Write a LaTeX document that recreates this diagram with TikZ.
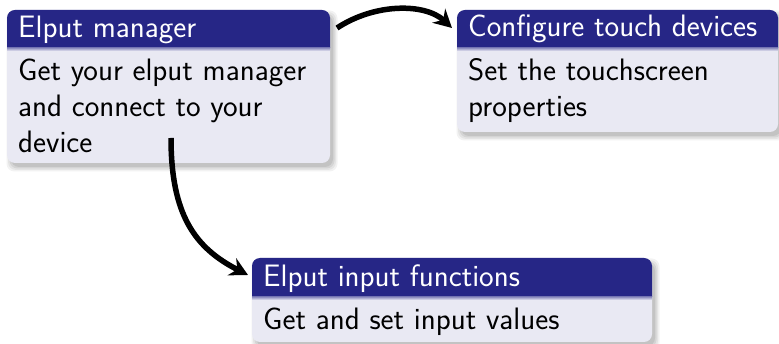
\documentclass[tikz,border=0pt]{standalone}
\usetikzlibrary{arrows.meta}
\definecolor{titlebg}{RGB}{38,38,134}
\definecolor{bodybg}{RGB}{233,233,243}
\tikzset{
  titletext/.style={anchor=base west, inner sep=0pt, text=white,
    font=\sffamily\fontsize{31}{36}\selectfont},
  bodytext/.style={anchor=base west, inner sep=0pt, text=black, align=left,
    font=\sffamily\fontsize{31}{36}\selectfont},
  flow/.style={line width=5.5pt, -{Stealth[length=18pt,width=19pt,inset=6pt]}},
}
% block: #1 left, #2 top, #3 right, #4 bottom of title bar, #5 bottom
\newcommand{\beamerblock}[5]{%
  \foreach \k/\o in {0/0.08,1.5/0.07,3/0.06,4.5/0.05} {
    \fill[black, opacity=\o, rounded corners=8pt]
      (#1+4-\k,#2+5-\k) rectangle (#3+3+\k,#5+4+\k);
  }
  \fill[bodybg, rounded corners=8pt] (#1,#2) rectangle (#3,#5);
  \begin{scope}
    \clip (#1,#2) rectangle (#3,#4);
    \fill[titlebg, rounded corners=8pt] (#1,#2) rectangle (#3,#5);
  \end{scope}
  \shade[top color=titlebg!45!bodybg, bottom color=bodybg] (#1,#4) rectangle (#3,#4+3);
}
\begin{document}
\begin{tikzpicture}[x=1pt,y=-1pt]
\useasboundingbox (0,0) rectangle (779,344);

\beamerblock{7}{10}{330}{48}{163}
\beamerblock{457}{10}{778}{48}{132}
\beamerblock{252}{258}{652}{297}{342}

% multi-line nodes are anchored at the baseline of their last line
\node[titletext] (mgrT) at (18,38) {Elput manager};
\node[bodytext] (mgrB) at (18,153) {Get your elput manager\\and connect to your\\device};

\node[titletext] (touchT) at (468,37) {Configure touch devices};
\node[bodytext] (touchB) at (468,117) {Set the touchscreen\\properties};

\node[titletext] (inT) at (263,287) {Elput input functions};
\node[bodytext] (inB) at (263,330) {Get and set input values};

\coordinate (mgrOut) at (337,28);
\coordinate (touchIn) at (452,28);
\coordinate (mgrDown) at (171,138);
\coordinate (inIn) at (248,275);

\draw[flow] (mgrOut) .. controls (375,3) and (425,3) .. (touchIn);
\draw[flow] (mgrDown) .. controls (171,215) and (195,248) .. (inIn);
\end{tikzpicture}
\end{document}
